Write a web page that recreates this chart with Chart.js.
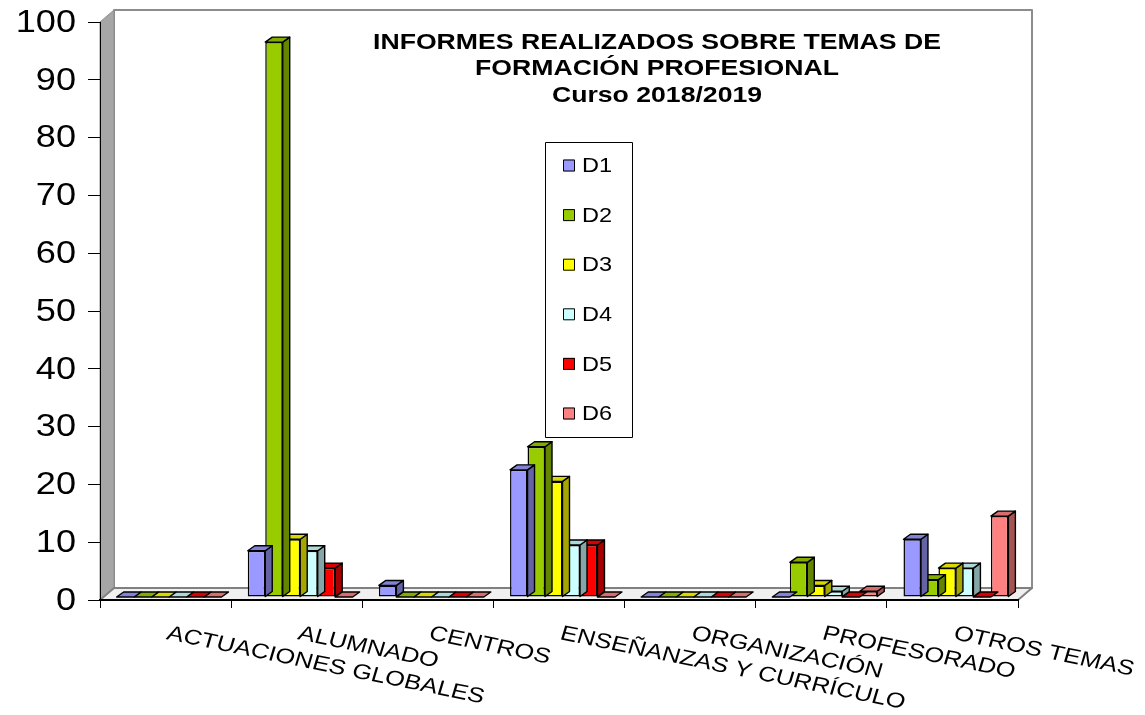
<!DOCTYPE html>
<html>
<head>
<meta charset="utf-8">
<script src="https://cdn.jsdelivr.net/npm/chart.js@4.4.1/dist/chart.umd.min.js"></script>
<style>
  html, body { margin: 0; padding: 0; background: #fff; }
</style>
</head>
<body>
<canvas id="chart" width="1145" height="715"></canvas>
<script>
// ---- Datos ----
const categories = ['ACTUACIONES GLOBALES', 'ALUMNADO', 'CENTROS', 'ENSEÑANZAS Y CURRÍCULO', 'ORGANIZACIÓN', 'PROFESORADO', 'OTROS TEMAS'];
const seriesNames = ['D1', 'D2', 'D3', 'D4', 'D5', 'D6'];
const d1 = [0, 8, 2, 22, 0, 0, 10];
const d2 = [0, 96, 0, 26, 0, 6, 3];
const d3 = [0, 10, 0, 20, 0, 2, 5];
const d4 = [0, 8, 0, 9, 0, 1, 5];
const d5 = [0, 5, 0, 9, 0, 0, 0];
const d6 = [0, 0, 0, 0, 0, 1, 14];
const seriesColors = ['#9999FF', '#99CC00', '#FFFF00', '#CCFFFF', '#FF0000', '#FF8080'];
const yTicks = [0, 10, 20, 30, 40, 50, 60, 70, 80, 90, 100];
const titleLines = ['INFORMES REALIZADOS SOBRE TEMAS DE', 'FORMACIÓN PROFESIONAL', 'Curso 2018/2019'];

const FONT = '"Liberation Sans", Arial, sans-serif';
const SX = 1.21;               // el original está algo ensanchado en horizontal
const WX = 14, WY = -12;       // profundidad de las paredes
const DX = 7, DY = -5;         // profundidad de cada barra
const SHIFT_X = 3.5, SHIFT_Y = -3;

function shade(hex, f) {
  const n = parseInt(hex.slice(1), 16);
  const r = Math.round(((n >> 16) & 255) * f);
  const g = Math.round(((n >> 8) & 255) * f);
  const b = Math.round((n & 255) * f);
  return `rgb(${r},${g},${b})`;
}

function poly(ctx, pts, fill, stroke, lw) {
  ctx.beginPath();
  ctx.moveTo(pts[0][0], pts[0][1]);
  for (let i = 1; i < pts.length; i++) ctx.lineTo(pts[i][0], pts[i][1]);
  ctx.closePath();
  if (fill) { ctx.fillStyle = fill; ctx.fill(); }
  if (stroke) { ctx.strokeStyle = stroke; ctx.lineWidth = lw || 1; ctx.lineJoin = 'round'; ctx.stroke(); }
}

// texto ensanchado (y opcionalmente girado)
function wideText(ctx, txt, x, y, sx, align, angle) {
  ctx.save();
  ctx.translate(x, y);
  ctx.scale(sx, 1);
  if (angle) ctx.rotate(angle);
  ctx.textAlign = align;
  ctx.fillText(txt, 0, 0);
  ctx.restore();
}

// Paredes y suelo 3D
const walls = {
  id: 'walls',
  beforeDraw(chart) {
    const { ctx, chartArea: a } = chart;
    const y0 = chart.scales.y.getPixelForValue(0);
    const yTop = chart.scales.y.getPixelForValue(100);
    ctx.save();
    poly(ctx, [[a.left + WX, yTop + WY], [a.right + WX, yTop + WY], [a.right + WX, y0 + WY], [a.left + WX, y0 + WY]], '#FFFFFF', '#8C8C8C', 2);
    poly(ctx, [[a.left, yTop], [a.left + WX, yTop + WY], [a.left + WX, y0 + WY], [a.left, y0]], '#A6A6A6', '#8C8C8C', 1);
    poly(ctx, [[a.left, y0], [a.left + WX, y0 + WY], [a.right + WX, y0 + WY], [a.right, y0]], '#F0F0F0', '#808080', 2);
    ctx.restore();
  }
};

// Caras superior y lateral de las barras
const bars3d = {
  id: 'bars3d',
  beforeDatasetDraw(chart) {
    chart.ctx.save();
    chart.ctx.translate(SHIFT_X, SHIFT_Y);
  },
  afterDatasetDraw(chart, args) {
    const ctx = chart.ctx;
    const col = seriesColors[args.index];
    args.meta.data.forEach(bar => {
      const { x, y, base, width } = bar.getProps(['x', 'y', 'base', 'width'], true);
      const l = x - width / 2, r = x + width / 2;
      if (base - y > 0.5) {
        poly(ctx, [[r, y], [r + DX, y + DY], [r + DX, base + DY], [r, base]], shade(col, 0.65), '#000', 1.4);
      }
      poly(ctx, [[l, y], [l + DX, y + DY], [r + DX, y + DY], [r, y]], shade(col, 0.85), '#000', 1.4);
    });
    ctx.restore();
  }
};

// Título, leyenda y etiquetas de ejes
const texts = {
  id: 'texts',
  afterDraw(chart) {
    const { ctx, scales } = chart;
    ctx.save();
    ctx.fillStyle = '#000';
    ctx.textBaseline = 'alphabetic';

    ctx.font = 'bold 22px ' + FONT;
    titleLines.forEach((t, i) => wideText(ctx, t, 657, 49 + i * 26.3, SX, 'center'));

    ctx.font = '32px ' + FONT;
    ctx.textBaseline = 'middle';
    yTicks.forEach(v => wideText(ctx, String(v), 76, scales.y.getPixelForValue(v) + 1, 1.13, 'right'));

    ctx.textBaseline = 'alphabetic';
    ctx.font = '21px ' + FONT;
    const ang = Math.atan(Math.tan(11.5 * Math.PI / 180) * SX);
    categories.forEach((c, i) => {
      wideText(ctx, c, scales.x.getPixelForValue(i), 639, SX, 'left', ang);
    });

    // leyenda
    poly(ctx, [[545.5, 142.5], [632.5, 142.5], [632.5, 437.5], [545.5, 437.5]], '#FFFFFF', '#000', 1);
    ctx.textBaseline = 'middle';
    seriesNames.forEach((n, i) => {
      const cy = 165.5 + i * 49.6;
      ctx.fillStyle = seriesColors[i];
      ctx.fillRect(563, cy - 6, 12, 12);
      ctx.strokeStyle = '#000';
      ctx.lineWidth = 1;
      ctx.strokeRect(563.5, cy - 5.5, 11, 11);
      ctx.fillStyle = '#000';
      wideText(ctx, n, 582, cy + 1, 1.12, 'left');
    });
    ctx.restore();
  }
};

const series = [d1, d2, d3, d4, d5, d6];

new Chart(document.getElementById('chart'), {
  type: 'bar',
  data: {
    labels: categories,
    datasets: series.map((vals, i) => ({
      label: seriesNames[i],
      data: vals,
      backgroundColor: seriesColors[i],
      borderColor: '#000',
      borderWidth: 1.5,
      borderSkipped: false,
      categoryPercentage: 0.8,
      barPercentage: 1,
      clip: false
    }))
  },
  options: {
    responsive: false,
    animation: false,
    layout: { padding: { top: 22, right: 127, left: 0, bottom: 0 } },
    plugins: {
      legend: { display: false },
      title: { display: false },
      tooltip: { enabled: false }
    },
    scales: {
      x: {
        grid: { display: true, drawOnChartArea: false, tickLength: 8, color: '#000', offset: true },
        border: { display: true, color: '#000', width: 2 },
        ticks: { display: false },
        afterFit: s => { s.height = 115; }
      },
      y: {
        min: 0,
        max: 100,
        ticks: { display: false, stepSize: 10 },
        grid: { drawOnChartArea: false, tickLength: 12, color: '#000' },
        border: { display: true, color: '#000', width: 1 },
        afterFit: s => { s.width = 100; }
      }
    }
  },
  plugins: [walls, bars3d, texts]
});
</script>
</body>
</html>
